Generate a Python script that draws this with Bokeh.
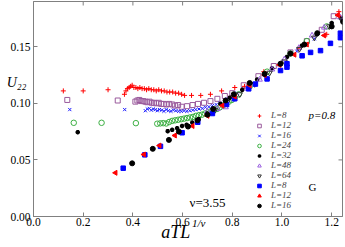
import numpy as np
from bokeh.plotting import figure
from bokeh.models import FixedTicker, Label, Legend, LegendItem, NumeralTickFormatter, LinearAxis
from bokeh.embed import file_html
from bokeh.resources import INLINE

# ---- data (Potts p=0.8) ----
x_L8 = [0.12, 0.20, 0.30, 0.366, 0.372, 0.378, 0.385, 0.391, 0.397, 0.404, 0.412, 0.42, 0.428, 0.437, 0.446,
        0.455, 0.464, 0.474, 0.484, 0.494, 0.504, 0.515, 0.526, 0.537, 0.548, 0.56, 0.572, 0.584, 0.596, 0.608,
        0.636, 0.673, 0.712, 0.757, 0.81, 0.849, 0.927, 0.994, 1.068, 1.18, 1.229, 1.235]
y_L8 = [0.111, 0.111, 0.112, 0.108, 0.111, 0.113, 0.114, 0.115, 0.116, 0.114, 0.114, 0.113, 0.114, 0.113, 0.113,
        0.112, 0.113, 0.112, 0.112, 0.111, 0.112, 0.111, 0.111, 0.110, 0.110, 0.110, 0.109, 0.109, 0.108, 0.107,
        0.107, 0.107, 0.108, 0.111, 0.114, 0.115, 0.128, 0.135, 0.148, 0.161, 0.181, 0.176]

x_L12 = [0.136, 0.339, 0.41, 0.418, 0.426, 0.434, 0.442, 0.45, 0.458, 0.467, 0.476, 0.485, 0.494, 0.504, 0.514,
         0.524, 0.535, 0.546, 0.558, 0.57, 0.582, 0.596, 0.618, 0.64, 0.662, 0.686, 0.712, 0.74, 0.77, 0.80,
         0.846, 0.905, 0.967, 1.034, 1.10, 1.16, 1.208]
y_L12 = [0.103, 0.1025, 0.1015, 0.1025, 0.103, 0.102, 0.102, 0.1015, 0.101, 0.1015, 0.1005, 0.1005, 0.100, 0.1005,
         0.0995, 0.0995, 0.099, 0.0995, 0.099, 0.098, 0.0985, 0.097, 0.0975, 0.0985, 0.0995, 0.1005, 0.102, 0.104,
         0.1065, 0.109, 0.116, 0.124, 0.133, 0.145, 0.155, 0.165, 0.177]

x_L16 = [0.146, 0.367, 0.45, 0.458, 0.466, 0.474, 0.482, 0.49, 0.498, 0.507, 0.516, 0.525, 0.534, 0.543, 0.553,
         0.563, 0.573, 0.584, 0.595, 0.606, 0.617, 0.629, 0.641, 0.653, 0.666, 0.679, 0.692, 0.706, 0.72, 0.735,
         0.75, 0.78, 0.82, 0.87, 0.93, 0.99, 1.06, 1.13, 1.20]
y_L16 = [0.0945, 0.0945, 0.0935, 0.095, 0.0955, 0.094, 0.095, 0.0945, 0.0935, 0.0945, 0.094, 0.093, 0.0945, 0.0935,
         0.093, 0.094, 0.0935, 0.093, 0.093, 0.0935, 0.093, 0.0935, 0.094, 0.0945, 0.095, 0.0955, 0.0965, 0.097,
         0.098, 0.099, 0.100, 0.104, 0.109, 0.116, 0.125, 0.134, 0.146, 0.157, 0.170]

x_L24 = [0.162, 0.274, 0.412, 0.498, 0.51, 0.522, 0.534, 0.546, 0.558, 0.57, 0.582, 0.594, 0.606, 0.618, 0.63,
         0.642, 0.654, 0.666, 0.678, 0.69, 0.702, 0.714, 0.726, 0.738, 0.75, 0.762, 0.774, 0.786, 0.798, 0.81,
         0.826, 0.87, 0.94, 1.034, 1.10, 1.18]
y_L24 = [0.0828, 0.0828, 0.0825, 0.082, 0.0823, 0.0825, 0.0822, 0.0835, 0.0845, 0.085, 0.0855, 0.086, 0.0865, 0.087,
         0.0875, 0.088, 0.089, 0.0895, 0.090, 0.091, 0.092, 0.093, 0.094, 0.095, 0.0965, 0.098, 0.0995, 0.1015,
         0.103, 0.105, 0.108, 0.115, 0.128, 0.144, 0.155, 0.168]

x_L32 = [0.178, 0.54, 0.558, 0.578, 0.598, 0.616, 0.639, 0.665, 0.699, 0.726, 0.752, 0.79, 0.84, 0.90, 0.96,
         1.02, 1.08, 1.14, 1.20, 1.24]
y_L32 = [0.0745, 0.0754, 0.0766, 0.078, 0.080, 0.081, 0.083, 0.086, 0.091, 0.095, 0.0996, 0.105, 0.112, 0.121,
         0.131, 0.141, 0.151, 0.161, 0.171, 0.175]

x_L48 = [0.70, 0.74, 0.773, 0.81, 0.86, 0.91, 0.96, 1.01, 1.068, 1.121, 1.17, 1.235]
y_L48 = [0.093, 0.095, 0.0966, 0.104, 0.113, 0.121, 0.130, 0.139, 0.149, 0.160, 0.167, 0.176]

x_L64 = [0.73, 0.78, 0.83, 0.89, 0.95, 1.01, 1.07, 1.13, 1.19, 1.24]
y_L64 = [0.094, 0.101, 0.108, 0.117, 0.127, 0.137, 0.148, 0.158, 0.168, 0.174]

# ---- data (G) ----
x_G8 = [0.361, 0.448, 0.511, 0.598, 0.661, 0.72, 0.777, 0.809, 0.866, 0.893, 0.94, 0.994, 1.02, 1.02, 1.081,
        1.115, 1.155, 1.195, 1.235, 1.235]
y_G8 = [0.0427, 0.0545, 0.062, 0.074, 0.0833, 0.091, 0.099, 0.104, 0.1128, 0.117, 0.1216, 0.129, 0.132, 0.135,
        0.142, 0.145, 0.1466, 0.153, 0.158, 0.162]

x_G12 = [0.33, 0.444, 0.507, 0.569, 0.64, 0.70, 0.76, 0.81, 0.87, 0.93, 0.99, 1.05, 1.10, 1.17, 1.225]
y_G12 = [0.0386, 0.0548, 0.0627, 0.0716, 0.080, 0.089, 0.098, 0.106, 0.116, 0.125, 0.134, 0.143, 0.152, 0.160, 0.178]

x_G16 = [0.397, 0.48, 0.545, 0.585, 0.622, 0.66, 0.70, 0.723, 0.773, 0.806, 0.87, 0.93, 0.994, 1.034, 1.09,
         1.142, 1.20, 1.246]
y_G16 = [0.047, 0.0598, 0.0677, 0.075, 0.0795, 0.085, 0.090, 0.095, 0.1025, 0.108, 0.118, 0.126, 0.135, 0.144,
         0.152, 0.162, 0.168, 0.172]

x_ticks = [0.0, 0.2, 0.4, 0.6, 0.8, 1.0, 1.2]
y_ticks = [0.0, 0.05, 0.10, 0.15]
X_MAX = 1.2435
Y_MAX = 0.19

# axis-title anchor positions (data units along each axis)
X_TITLE_MAIN = 0.572   # "aTL"
X_TITLE_SUP = 0.665    # superscript "1/ν"
Y_TITLE = 0.1180       # "U₂₂"

SERIF = "Liberation Serif"
AX = "#808080"

p = figure(width=345, height=247, x_range=(0, X_MAX), y_range=(0, Y_MAX),
           output_backend="svg", toolbar_location=None,
           min_border_left=33, min_border_right=3, min_border_top=1, min_border_bottom=31)
p.grid.visible = False
p.outline_line_color = AX

for ax, tk, fmt, standoff in ((p.xaxis[0], x_ticks, "0.0", 1), (p.yaxis[0], y_ticks, "0.00", 3)):
    ax.ticker = FixedTicker(ticks=tk)
    ax.formatter = NumeralTickFormatter(format=fmt)
    ax.major_tick_in = 4
    ax.major_tick_out = 0
    ax.minor_tick_line_color = None
    ax.axis_line_color = AX
    ax.major_tick_line_color = AX
    ax.major_label_text_font = SERIF
    ax.major_label_text_font_size = "11.5px"
    ax.major_label_text_color = "black"
    ax.major_label_standoff = standoff

def title_axis(pos, text, size, standoff):
    a = LinearAxis(ticker=FixedTicker(ticks=[pos]), major_label_overrides={pos: text},
                   axis_line_color=None, major_tick_line_color=None, minor_tick_line_color=None,
                   major_tick_in=0, major_tick_out=0, major_label_standoff=standoff,
                   major_label_text_font=SERIF, major_label_text_font_style="italic",
                   major_label_text_font_size=size, major_label_text_color="black")
    return a

p.add_layout(title_axis(Y_TITLE, "U₂₂", "14px", -19), "left")
p.add_layout(title_axis(X_TITLE_SUP, "1/ν", "11px", -12), "below")
p.add_layout(title_axis(X_TITLE_MAIN, "aTL", "18px", -10), "below")

# inward ticks on the top and right frame edges (half of each dash is clipped by the frame)
p.scatter(x_ticks, [Y_MAX] * len(x_ticks), marker="dash", angle=np.pi / 2, size=8, line_color=AX)
p.scatter([X_MAX] * len(y_ticks), y_ticks, marker="dash", size=8, line_color=AX)

r1 = p.scatter(x_L8, y_L8, marker="cross", size=5, line_color="#ff0000", line_width=1)
r2 = p.scatter(x_L12, y_L12, marker="square", size=5, line_color="#9a5a9c", fill_color=None, line_width=1)
r3 = p.scatter(x_L16, y_L16, marker="x", size=4.5, line_color="#2020ff", line_width=1)
r4 = p.scatter(x_L24, y_L24, marker="circle", size=5.5, line_color="#3cb043", fill_color=None, line_width=1)
r5 = p.scatter(x_L32, y_L32, marker="asterisk", size=4.5, line_color="#000000", line_width=1.5)
r6 = p.scatter(x_L48, y_L48, marker="triangle", size=5.5, line_color="#9a60e0", fill_color=None, line_width=1)
r7 = p.scatter(x_L64, y_L64, marker="inverted_triangle", size=5.5, line_color="#333333", fill_color=None, line_width=1)
r8 = p.scatter(x_G8, y_G8, marker="square", size=4.5, line_color="#0000ff", fill_color="#0000ff")
r9 = p.scatter(x_G12, y_G12, marker="triangle", angle=np.pi / 2, size=5, line_color="#ff0000", fill_color="#ff0000")
r10 = p.scatter(x_G16, y_G16, marker="circle", size=5, line_color="#000000", fill_color="#000000")

labels = ["L=8", "L=12", "L=16", "L=24", "L=32", "L=48", "L=64", "L=8", "L=12", "L=16"]
rs = [r1, r2, r3, r4, r5, r6, r7, r8, r9, r10]
legend = Legend(items=[LegendItem(label=l, renderers=[r]) for l, r in zip(labels, rs)],
                location=(221, 6), label_text_font=SERIF, label_text_font_style="italic",
                label_text_font_size="9px", glyph_width=10, glyph_height=9, label_height=9,
                spacing=0, padding=0, margin=0, label_standoff=7,
                background_fill_alpha=0, border_line_color=None)
p.add_layout(legend)

def lab(x, y, t, size, style="normal"):
    p.add_layout(Label(x=x, y=y, text=t, text_font=SERIF, text_font_size=size, text_font_style=style,
                       text_baseline="middle", text_align="left", text_color="black"))

lab(1.1066, 0.0893, "p=0.8", "11px", "italic")
lab(1.1066, 0.0265, "G", "11px")
lab(0.628, 0.0124, "ν=3.55", "13px")

open("out.html", "w").write(file_html(p, INLINE))
